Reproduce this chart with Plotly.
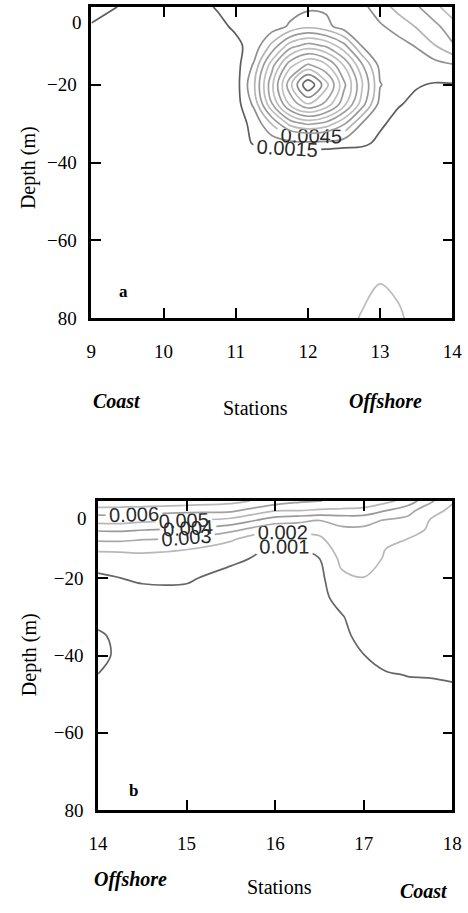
import numpy as np
import plotly.graph_objects as go

W, H = 468, 913

# ---------------- Panel a (stations 9-14) ----------------
stations_a = [9, 9.5, 10, 10.5, 10.75, 11, 11.25, 11.5, 11.75, 12, 12.25, 12.5, 12.75, 13, 13.25, 13.5, 13.75, 14]
depth_a = [0, -5, -10, -15, -20, -25, -30, -35, -37.5, -40, -50, -60, -70, -80]
# values in units of 1e-4, one row per depth
conc_a_e4 = [
    [20, 13, 11, 12, 16, 19, 21, 22, 24, 27, 27, 24, 26, 38, 50, 58, 70, 85],
    [14, 11, 10, 11, 12, 17, 20, 22, 32, 41, 35, 22, 22, 28, 36, 46, 56, 68],
    [12, 10, 10, 10, 11, 12, 20, 49, 83, 97, 88, 65, 29, 22, 24, 31, 44, 58],
    [11, 10, 10, 10, 10, 9, 32, 84, 130, 153, 138, 104, 62, 25, 20, 20, 24, 28],
    [10, 10, 10, 10, 9, 8, 42, 101, 160, 209, 171, 124, 77, 31, 20, 16, 14, 14],
    [10, 10, 10, 10, 9, 8, 33, 89, 138, 164, 146, 110, 67, 24, 16, 12, 11, 11],
    [10, 10, 10, 10, 9, 10, 18, 46, 80, 93, 85, 62, 29, 17, 11, 10, 10, 10],
    [10, 10, 10, 10, 10, 9, 16, 20, 24, 26, 25, 21, 18, 12, 10, 10, 10, 10],
    [10, 10, 10, 10, 10, 9, 10, 10, 9, 9, 9, 9, 10, 10, 10, 10, 10, 10],
    [10, 10, 10, 10, 10, 10, 10, 10, 10, 10, 10, 10, 10, 10, 10, 10, 10, 10],
    [10, 10, 10, 10, 10, 10, 10, 10, 10, 10, 10, 10, 10, 10, 10, 10, 10, 10],
    [10, 10, 10, 10, 10, 10, 10, 10, 10, 10, 10, 10, 10, 10, 10, 10, 10, 10],
    [10, 10, 10, 10, 10, 10, 10, 10, 10, 10, 10, 10, 9, 7.4, 8.5, 9.5, 10, 10],
    [10, 10, 10, 10, 10, 10, 10, 10, 10, 10, 10, 9, 6.5, 4, 6, 9, 10, 10],
]
levels_a = [0.0007, 0.0015, 0.003, 0.0045, 0.006, 0.0075, 0.009, 0.0105, 0.012,
            0.0135, 0.015, 0.0165, 0.018, 0.0195]
colors_a = ['#bdbdbd', '#5e5e5e', '#8e8e8e', '#b3b3b3', '#9a9a9a', '#bdbdbd', '#a0a0a0',
            '#bdbdbd', '#9a9a9a', '#c0c0c0', '#a0a0a0', '#bdbdbd', '#8a8a8a', '#6a6a6a']
labeled_a = [0.0015, 0.0045, 0.0165]

# ---------------- Panel b (stations 14-18) ----------------
stations_b = [14, 14.25, 14.5, 15, 15.5, 16, 16.25, 16.5, 16.75, 17, 17.25, 17.5, 17.75, 18]
depth_b = [0, -2.5, -5, -7.5, -10, -12.5, -15, -20, -25, -30, -35, -40, -45, -50, -60, -80]
# values in units of 1e-4, one profile per station
profiles_b_e4 = [
    [80, 65.2, 54.3, 41.1, 31.8, 21.3, 16.3, 7.8, 7, 8, 11, 12, 9.9, 8, 7, 6],
    [79, 65, 54.5, 41.5, 32, 21.5, 16.5, 9.9, 7.5, 7.5, 8.5, 8.5, 7.5, 7, 7, 6],
    [78, 64.5, 52.5, 40.2, 30.2, 21.7, 17.4, 11, 7.5, 7, 7, 7, 7, 7, 7, 6],
    [76, 62.8, 50.2, 38, 28.3, 20.2, 17, 11.2, 7, 7, 7, 7, 7, 7, 7, 6],
    [73, 62, 46.9, 32.4, 20.9, 16.2, 12, 6.5, 6, 6, 6, 6, 6, 6, 6, 6],
    [66, 50.6, 35, 21.4, 11.9, 8, 7, 6.5, 6, 6, 6, 6, 6, 6, 6, 6],
    [62, 50.2, 32.7, 23.2, 13.6, 8.5, 7.5, 6.5, 6, 6, 6, 6, 6, 6, 6, 6],
    [60.3, 48.7, 30.2, 23.2, 17.9, 14, 9.8, 7.5, 7, 6.5, 6, 6, 6, 6, 6, 6],
    [58, 48, 32.8, 28.4, 26.8, 24.4, 22.3, 18.1, 13.6, 9.3, 8, 7, 6.5, 6.5, 6, 6],
    [56, 47.5, 32.5, 28.6, 26.9, 25.2, 23.4, 19.8, 17.5, 15, 12.5, 9.9, 8.5, 8, 7, 6],
    [53, 40.2, 29.4, 26.3, 23.1, 19.9, 19.2, 17.6, 16, 14.4, 12.9, 11.3, 9.7, 8.8, 7.5, 6.5],
    [46, 33.4, 27.3, 22.7, 19.7, 19, 18.3, 17, 15.6, 14.2, 12.8, 11.5, 10.1, 9, 8, 7],
    [32, 23.5, 19.7, 19.1, 18.5, 17.9, 17.3, 16.1, 14.9, 13.7, 12.6, 11.4, 10.2, 9, 8, 7],
    [21, 18, 17.5, 16.8, 16.2, 15.5, 15, 14.1, 13.2, 12.3, 11.5, 11, 10.3, 9.5, 8.5, 7],
]
levels_b = [0.001, 0.002, 0.003, 0.004, 0.005, 0.006, 0.007]
colors_b = ['#666666', '#b8b8b8', '#a8a8a8', '#9a9a9a', '#b8b8b8', '#a0a0a0', '#b8b8b8']

x_ticks_a = [9, 10, 11, 12, 13, 14]
x_ticks_b = [14, 15, 16, 17, 18]
y_tickvals = [-20, -40, -60, -80]
y_ticktext = ['\u221220', '\u221240', '\u221260', '80']

z_a = np.array(conc_a_e4) * 1e-4
z_b = np.array(profiles_b_e4).T * 1e-4

SERIF = 'Liberation Serif, Times New Roman, serif'
SANS = 'Liberation Sans, Arial, sans-serif'

fig = go.Figure()


def add_levels(x, y, z, levels, colors, labeled, fmt, xa, ya):
    for lev, col in zip(levels, colors):
        fig.add_trace(go.Contour(
            x=x, y=y, z=z, xaxis=xa, yaxis=ya,
            autocontour=False,
            contours=dict(start=lev, end=lev, size=1, coloring='none',
                          showlabels=(lev in labeled), labelformat=fmt,
                          labelfont=dict(family=SANS, size=20, color='#2a2a2a')),
            line=dict(color=col, width=1.7, smoothing=1.0),
            showscale=False, hoverinfo='skip', showlegend=False))


add_levels(stations_a, depth_a, z_a, levels_a, colors_a, labeled_a, '.4f', 'x', 'y')
add_levels(stations_b, depth_b, z_b, levels_b, colors_b, levels_b, '.3f', 'x2', 'y2')


def px(xp):
    return xp / W


def py(yp):
    return 1 - yp / H


axis_common = dict(showline=True, linecolor='black', linewidth=2.5, mirror='ticks',
                   ticks='inside', ticklen=10, tickwidth=2, tickcolor='black',
                   showgrid=False, zeroline=False,
                   tickfont=dict(family=SERIF, size=19, color='black'))

fig.update_layout(
    width=W, height=H, margin=dict(l=0, r=0, t=0, b=0), autosize=False,
    paper_bgcolor='white', plot_bgcolor='white', showlegend=False,
    xaxis=dict(domain=[px(85), px(462)], range=[9, 14], tickvals=x_ticks_a,
               anchor='y', ticklabelstandoff=14, ticklabeloverflow='allow', **axis_common),
    yaxis=dict(domain=[py(322), py(7)], range=[-80, 0], tickvals=y_tickvals,
               ticktext=y_ticktext, anchor='x', ticklabelstandoff=8, **axis_common),
    xaxis2=dict(domain=[px(92), px(462)], range=[14, 18], tickvals=x_ticks_b,
                anchor='y2', ticklabelstandoff=14, ticklabeloverflow='allow', **axis_common),
    yaxis2=dict(domain=[py(820), py(507)], range=[-80, 0], tickvals=y_tickvals,
                ticktext=y_ticktext, anchor='x2', ticklabelstandoff=8, **axis_common),
)

ann = []


def text(x, y, s, size=20, bold=False, italic=False, angle=0, xanchor='center'):
    t = s
    if bold:
        t = '<b>' + t + '</b>'
    if italic:
        t = '<i>' + t + '</i>'
    ann.append(dict(x=px(x), y=py(y), xref='paper', yref='paper', text=t,
                    showarrow=False, textangle=angle, xanchor=xanchor, yanchor='middle',
                    font=dict(family=SERIF, size=size, color='black')))


# zero labels (offset below the top edge)
text(77, 23, '0', size=19, xanchor='right')
text(83, 525, '0', size=19, xanchor='right')
# axis titles
text(20, 170, 'Depth (m)', angle=-90)
text(20, 663, 'Depth (m)', angle=-90)
text(256, 413, 'Stations')
text(282, 898, 'Stations')
# side labels
text(112, 406, 'Coast', bold=True, italic=True)
text(392, 406, 'Offshore', bold=True, italic=True)
text(126, 890, 'Offshore', bold=True, italic=True)
text(432, 902, 'Coast', bold=True, italic=True)
# panel letters
text(119, 295, 'a', size=17, bold=True)
text(129, 800, 'b', size=17, bold=True)

fig.update_layout(annotations=ann)

fig.write_html('out.html', config={'displayModeBar': False, 'responsive': False},
               post_script=("document.documentElement.style.overflow='hidden';"
                            "document.body.style.margin='0';"
                            "document.body.style.overflow='hidden';"))
